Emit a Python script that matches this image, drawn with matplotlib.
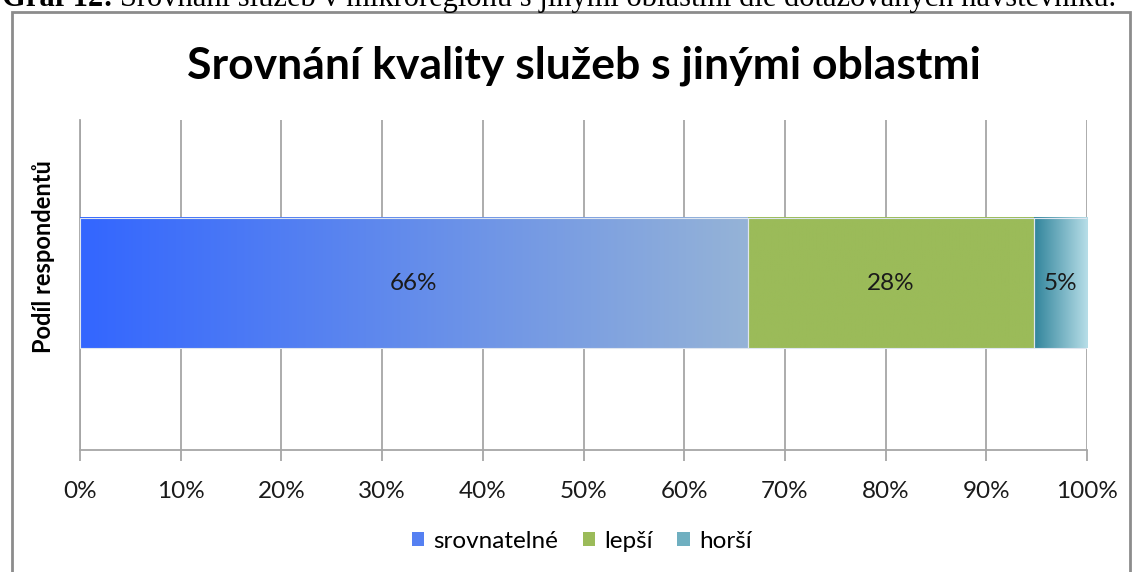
import numpy as np
import matplotlib.pyplot as plt
from matplotlib.colors import LinearSegmentedColormap
from matplotlib.patches import Rectangle
from matplotlib.ticker import PercentFormatter

categories = ["srovnatelné", "lepší", "horší"]
values = [66.3, 28.4, 5.3]
labels = ["66%", "28%", "5%"]
grad_left = ["#3366FF", "#9BBB59", "#31849B"]
grad_right = ["#95B3D7", "#9BBB59", "#B7DEE8"]
legend_colors = ["#5580F2", "#9BBB59", "#6FAFC0"]

plt.rcParams['font.family'] = ['Lato', 'DejaVu Sans']

fig = plt.figure(figsize=(11.34, 5.72), dpi=100)
ax = fig.add_axes([80 / 1134, 1 - 450 / 572, 1007 / 1134, 330 / 572])

# outer chart frame (cut off at bottom)
fig.patches.append(Rectangle((12 / 1134, -0.1), 1118 / 1134, 1.1 - 12 / 572,
                             transform=fig.transFigure, fill=False,
                             edgecolor='#8c8c8c', lw=2))

# caption above the chart, mostly cut off by the top edge
cap_y = 1 - 6 / 572
t1 = fig.text(0.002, cap_y, "Graf 12:", family='Liberation Serif', weight='bold',
              fontsize=22, va='baseline', ha='left')
fig.canvas.draw()
bb = t1.get_window_extent(fig.canvas.get_renderer())
fig.text(bb.x1 / fig.bbox.width + 0.006, cap_y,
         "Srovnání služeb v mikroregionu s jinými oblastmi dle dotazovaných návštěvníků.",
         family='Liberation Serif', fontsize=22, va='baseline', ha='left')

left = 0
bar_h = 0.394
y0 = -bar_h / 2 + 0.006
for cat, v, lab, c1, c2 in zip(categories, values, labels, grad_left, grad_right):
    cmap = LinearSegmentedColormap.from_list(cat, [c1, c2], N=256)
    grad = np.linspace(0, 1, 256).reshape(1, -1)
    ax.imshow(grad, cmap=cmap, aspect='auto', extent=(left, left + v, y0, y0 + bar_h),
              zorder=3, interpolation='bilinear')
    ax.add_patch(Rectangle((left, y0), v, bar_h, fill=False, edgecolor='#dfe6f0',
                           lw=0.8, zorder=4))
    ax.text(left + v / 2, y0 + bar_h / 2, lab, ha='center', va='center',
            fontsize=17.5, color='#1a1a1a', zorder=5)
    left += v

ax.set_xlim(0, 100)
ax.set_ylim(-0.5, 0.5)
ax.set_xticks(np.arange(0, 101, 10))
ax.xaxis.set_major_formatter(PercentFormatter(decimals=0))
ax.set_yticks([])
ax.grid(axis='x', color='#a6a6a6', lw=1.3, zorder=0)
for s in ['top', 'right']:
    ax.spines[s].set_visible(False)
for s in ['left', 'bottom']:
    ax.spines[s].set_color('#a6a6a6')
    ax.spines[s].set_linewidth(1.3)
ax.tick_params(axis='x', length=8, width=1.3, color='#a6a6a6', labelsize=17.5,
               labelcolor='#1a1a1a', pad=14)

ax.set_ylabel("Podíl respondentů", fontsize=17, weight='bold')
ax.yaxis.set_label_coords(-0.025, 0.585)
ax.set_title("Srovnání kvality služeb s jinými oblastmi", fontsize=32, weight='bold',
             pad=30)

handles = [Rectangle((0, 0), 1, 1, facecolor=c, edgecolor='none') for c in legend_colors]
fig.legend(handles, categories, loc='center', bbox_to_anchor=(0.513, 1 - 541 / 572),
           ncol=3, frameon=False, fontsize=17.5, handlelength=0.5, handleheight=0.5,
           columnspacing=1.0, handletextpad=0.4)

fig.savefig("out.png", dpi=100)
